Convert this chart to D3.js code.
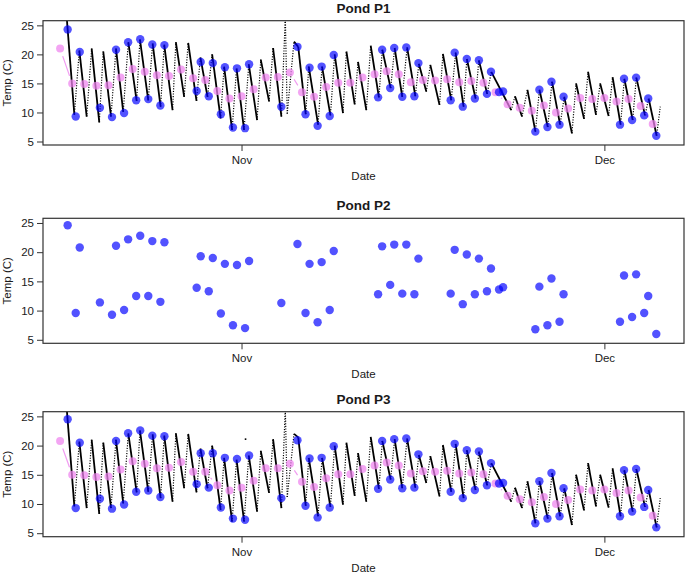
<!DOCTYPE html>
<html><head><meta charset="utf-8">
<script src="https://cdn.jsdelivr.net/npm/d3@7"></script>
<style>
body{margin:0;background:#fff}
svg text{font-family:"Liberation Sans",Arial,Helvetica,sans-serif;fill:#1a1a1a}
</style></head>
<body><svg id="chart" width="685" height="575"></svg>
<script>
// ---------------- DATA ----------------
const YEAR = "2012";
const panelTitles = ["Pond P1", "Pond P2", "Pond P3"];
const xTickDates = ["11-01", "12-01"];
const xTickLabels = ["Nov", "Dec"];
const yTickValues = [5, 10, 15, 20, 25];
const xLabel = "Date";
const yLabel = "Temp (C)";

// continuous logger record, P1 (daily turning points)
const loggerTimesP1 = ["10-17 13:12","10-18 04:19","10-18 14:10","10-19 04:48","10-19 14:38","10-20 05:46","10-20 13:41","10-21 05:02","10-21 14:53","10-22 05:17","10-22 15:22","10-23 07:55","10-23 14:24","10-24 06:58","10-24 15:36","10-25 07:26","10-25 14:38","10-26 07:12","10-26 13:41","10-27 06:14","10-27 14:10","10-28 06:43","10-28 14:24","10-29 04:34","10-29 13:41","10-30 06:29","10-30 13:26","10-31 05:17","10-31 14:10","11-01 05:02","11-01 14:24","11-02 06:58","11-02 14:10","11-03 06:43","11-03 14:38","11-04 07:12","11-04 14:53","11-04 18:43","11-05 08:10","11-05 16:34","11-06 07:26","11-06 13:26","11-07 07:55","11-07 15:50","11-08 08:24","11-08 16:48","11-09 09:22","11-09 16:05","11-10 08:38","11-10 15:07","11-11 07:41","11-11 16:19","11-12 08:38","11-12 15:22","11-13 07:55","11-13 15:50","11-14 06:58","11-14 16:34","11-15 08:53","11-15 15:50","11-16 06:43","11-16 14:38","11-17 08:53","11-17 15:36","11-18 08:10","11-18 16:48","11-19 08:38","11-19 15:07","11-20 08:24","11-20 14:53","11-21 07:26","11-21 15:36","11-23 07:12","11-23 14:38","11-24 04:34","11-24 15:22","11-25 07:12","11-25 15:07","11-26 07:41","11-26 16:05","11-27 08:10","11-27 16:19","11-28 07:41","11-28 15:50","11-29 07:41","11-29 15:36","11-30 07:26","11-30 15:36","12-01 08:24","12-01 16:19","12-02 08:10","12-02 15:36","12-03 08:10","12-03 15:22","12-04 08:38","12-04 15:50","12-05 07:41","12-05 14:53"];
const loggerTempP1 = [26.3,9.6,20.7,9.3,21.0,8.3,20.5,9.3,21.0,10.1,22.1,12.0,22.6,12.1,21.9,11.0,21.7,10.4,22.1,12.7,22.0,12.0,19.5,12.7,20.0,9.0,17.9,7.0,17.6,7.0,18.3,8.7,19.1,11.9,21.1,9.3,26.5,9.8,22.2,21.3,9.7,17.9,7.9,17.9,9.5,20.0,9.9,20.5,11.4,18.7,10.4,21.5,12.6,20.8,14.2,21.1,12.7,21.2,12.8,18.4,13.6,18.2,11.3,20.1,12.1,20.3,11.0,19.2,12.4,19.0,13.2,17.0,10.4,12.8,9.3,13.9,6.7,13.9,7.5,15.3,7.9,12.7,6.4,15.0,8.9,17.0,9.6,15.0,9.4,16.1,7.9,15.8,8.7,16.0,9.5,12.4,6.0,11.0];

// continuous logger record, P3
const loggerTimesP3 = loggerTimesP1.slice();
const loggerTempP3 = [26.3,9.6,20.7,9.3,21.0,8.3,20.5,9.3,21.0,10.1,22.1,12.0,22.6,12.1,21.9,11.0,21.7,10.4,22.1,12.7,22.0,12.0,19.5,12.7,20.0,9.0,17.9,7.0,17.6,7.0,18.3,8.7,19.1,11.9,21.1,9.3,26.5,11.2,22.0,21.4,9.7,17.9,7.9,17.9,9.5,20.0,9.9,20.5,11.4,18.7,10.4,21.5,12.6,20.8,14.2,21.1,12.7,21.2,12.8,18.4,13.6,18.2,11.3,20.1,12.1,20.3,11.0,19.2,12.4,19.0,13.2,17.0,10.4,12.8,9.3,13.9,6.7,13.9,7.5,15.3,7.9,12.7,6.4,15.0,8.9,17.0,9.6,15.0,9.4,16.1,7.9,15.8,8.7,16.0,9.5,12.4,6.0,11.0];
// isolated logger readings, P3
const strayTimesP3 = ["11-01 08:00"];
const strayTempP3 = [21.1];

// spot measurements (morning / afternoon)
const spotTimes = ["10-17 15:00","10-18 07:00","10-18 15:00","10-20 07:00","10-21 07:00","10-21 15:00","10-22 07:00","10-22 15:00","10-23 07:00","10-23 15:00","10-24 07:00","10-24 15:00","10-25 07:00","10-25 15:00","10-28 07:00","10-28 15:00","10-29 07:00","10-29 15:00","10-30 07:00","10-30 15:00","10-31 07:00","10-31 15:00","11-01 07:00","11-01 15:00","11-04 07:00","11-05 15:00","11-06 07:00","11-06 15:00","11-07 07:00","11-07 15:00","11-08 07:00","11-08 15:00","11-12 07:00","11-12 15:00","11-13 07:00","11-13 15:00","11-14 07:00","11-14 15:00","11-15 07:00","11-15 15:00","11-18 07:00","11-18 15:00","11-19 07:00","11-19 15:00","11-20 07:00","11-20 15:00","11-21 07:00","11-21 15:00","11-22 07:00","11-22 15:00","11-25 07:00","11-25 15:00","11-26 07:00","11-26 15:00","11-27 07:00","11-27 15:00","12-02 07:00","12-02 15:00","12-03 07:00","12-03 15:00","12-04 07:00","12-04 15:00","12-05 07:00"];
const spotP1 = [24.3,9.3,20.4,10.8,9.2,20.8,9.9,22.1,12.1,22.6,12.3,21.7,11.2,21.6,13.7,18.7,12.8,18.5,9.7,17.8,7.4,17.6,7.3,18.3,11.0,21.3,9.7,17.7,7.7,17.9,9.4,19.9,12.6,20.8,14.2,21.1,12.7,21.2,12.8,18.5,12.1,20.3,11.0,19.2,12.4,19.0,13.2,17.0,13.5,13.6,6.7,13.9,7.5,15.3,7.9,12.7,7.9,15.8,8.7,16.0,9.5,12.4,6.0];
const spotP2 = [24.6,9.6,20.8,11.4,9.3,21.1,10.1,22.2,12.5,22.8,12.5,21.9,11.5,21.7,13.9,19.3,13.3,19.0,9.5,18.0,7.5,17.8,7.0,18.5,11.3,21.4,9.6,18.0,8.0,18.3,10.1,20.2,12.8,21.0,14.4,21.3,12.9,21.3,12.8,18.9,12.9,20.4,11.1,19.6,12.8,18.9,13.3,17.2,13.6,14.0,6.8,14.1,7.5,15.5,8.1,12.8,8.1,16.0,8.9,16.2,9.6,12.5,6.0];
const spotP3 = [24.5,9.3,20.5,10.9,9.2,20.8,9.9,22.1,12.1,22.6,12.3,21.7,11.2,21.6,13.4,18.7,12.8,18.7,9.4,17.9,7.5,17.7,7.3,18.3,11.0,20.9,9.7,17.8,7.7,17.9,9.4,19.9,12.6,20.8,14.2,21.1,12.7,21.2,12.8,18.5,12.1,20.3,11.0,19.2,12.4,19.0,13.2,17.0,13.5,13.6,6.7,13.9,7.5,15.3,7.9,12.7,7.9,15.8,8.7,16.0,9.5,12.4,6.0];

// daily means
const meanDays = ["10-17","10-18","10-19","10-20","10-21","10-22","10-23","10-24","10-25","10-26","10-27","10-28","10-29","10-30","10-31","11-01","11-02","11-03","11-04","11-05","11-06","11-07","11-08","11-09","11-10","11-11","11-12","11-13","11-14","11-15","11-16","11-17","11-18","11-19","11-20","11-21","11-22","11-23","11-24","11-25","11-26","11-27","11-28","11-29","11-30","12-01","12-02","12-03","12-04","12-05"];
const meanP1 = [21.0,15.0,14.9,14.6,14.7,16.0,17.5,17.0,16.4,16.3,17.4,15.9,15.6,13.7,12.4,12.8,14.0,16.0,16.1,16.9,13.5,12.7,14.4,15.1,15.1,16.0,16.6,17.1,16.6,15.2,15.6,15.5,15.7,15.2,15.4,15.1,13.5,11.4,10.8,10.3,11.2,10.0,10.7,12.5,12.3,12.5,11.9,12.3,11.1,8.0];
const meanP3 = [20.8,15.0,14.9,14.6,14.7,15.9,17.3,16.9,16.1,16.2,17.2,15.5,15.5,13.2,12.3,12.8,14.0,16.1,16.1,16.9,13.8,12.9,14.4,15.1,15.1,16.0,16.6,17.1,16.6,15.2,15.6,15.5,15.7,15.2,15.4,15.1,13.5,11.4,10.8,10.3,11.2,10.0,10.7,12.5,12.3,12.5,11.9,12.3,11.1,8.0];

// ---------------- HELPERS ----------------
const parseT = d3.utcParse("%Y-%m-%d %H:%M");
const T = s => parseT(`${YEAR}-${s.length === 5 ? s + " 00:00" : s}`);
const zip = (ts, vs) => ts.map((s, i) => ({t: T(s), v: vs[i]}));

const svg = d3.select("#chart");
const plotLeft = 43, plotRight = 684;
const yDomain = [4.4, 25.8];

const p1Logger = zip(loggerTimesP1, loggerTempP1);
const ext = d3.extent(p1Logger, d => d.t);
const pad = (ext[1] - ext[0]) * 0.04;
const x = d3.scaleUtc().domain([new Date(+ext[0] - pad), new Date(+ext[1] + pad)]).range([plotLeft, plotRight]);

const panels = [
  {title: panelTitles[0], top: 20.7, bottom: 145,
   logger: p1Logger, stray: null, spot: zip(spotTimes, spotP1), mean: zip(meanDays, meanP1)},
  {title: panelTitles[1], top: 218.3, bottom: 343.3,
   logger: null, stray: null, spot: zip(spotTimes, spotP2), mean: null},
  {title: panelTitles[2], top: 411.7, bottom: 536.7,
   logger: zip(loggerTimesP3, loggerTempP3), stray: zip(strayTimesP3, strayTempP3),
   spot: zip(spotTimes, spotP3), mean: zip(meanDays, meanP3)}
];

panels.forEach((P, pi) => {
  const y = d3.scaleLinear().domain(yDomain).range([P.bottom, P.top]);
  const g = svg.append("g");
  const cid = "clip" + pi;
  svg.append("clipPath").attr("id", cid).append("rect")
    .attr("x", plotLeft).attr("y", P.top).attr("width", plotRight - plotLeft).attr("height", P.bottom - P.top);
  const pg = g.append("g").attr("clip-path", `url(#${cid})`);

  const line = d3.line().x(d => x(d.t)).y(d => y(d.v));

  if (P.logger) {
    const segs = d3.pairs(P.logger);
    pg.selectAll("path.seg").data(segs).join("path")
      .attr("d", d => line(d))
      .attr("fill", "none")
      .attr("stroke", "#000")
      .each(function(d) {
        const days = (d[1].t - d[0].t) / 864e5;
        const rate = Math.abs(d[1].v - d[0].v) / days;
        const dotted = d[1].v > d[0].v || rate > 35;
        d3.select(this)
          .attr("stroke-width", dotted ? 1.2 : 1.8)
          .attr("stroke-dasharray", dotted ? "1.1,1.5" : null);
      });
  }
  if (P.stray) {
    pg.selectAll("rect.stray").data(P.stray).join("rect")
      .attr("x", d => x(d.t) - 0.8).attr("y", d => y(d.v) - 0.8)
      .attr("width", 1.6).attr("height", 1.6).attr("fill", "#000");
  }

  if (P.mean) {
    const gap = 8;
    d3.pairs(P.mean).forEach(([a, b]) => {
      const x1 = x(a.t), y1 = y(a.v), x2 = x(b.t), y2 = y(b.v);
      const L = Math.hypot(x2 - x1, y2 - y1);
      if (L <= 2 * gap) return;
      const ux = (x2 - x1) / L, uy = (y2 - y1) / L;
      pg.append("line")
        .attr("x1", x1 + ux * gap).attr("y1", y1 + uy * gap)
        .attr("x2", x2 - ux * gap).attr("y2", y2 - uy * gap)
        .attr("stroke", "violet").attr("stroke-opacity", 0.8).attr("stroke-width", 1.2);
    });
    pg.selectAll("circle.mean").data(P.mean).join("circle")
      .attr("cx", d => x(d.t)).attr("cy", d => y(d.v)).attr("r", 4)
      .attr("fill", "violet").attr("fill-opacity", 0.72);
  }

  pg.selectAll("circle.spot").data(P.spot).join("circle")
    .attr("cx", d => x(d.t)).attr("cy", d => y(d.v)).attr("r", 4.2)
    .attr("fill", "#0000ff").attr("fill-opacity", 0.68);

  // frame
  g.append("rect").attr("x", plotLeft).attr("y", P.top)
    .attr("width", plotRight - plotLeft).attr("height", P.bottom - P.top)
    .attr("fill", "none").attr("stroke", "#333").attr("stroke-width", 1.2);

  // axes
  const ya = g.append("g").attr("transform", `translate(${plotLeft},0)`)
    .call(d3.axisLeft(y).tickValues(yTickValues).tickSize(6).tickPadding(3));
  const xa = g.append("g").attr("transform", `translate(0,${P.bottom})`)
    .call(d3.axisBottom(x).tickValues(xTickDates.map(T)).tickSize(6).tickPadding(5)
      .tickFormat((d, i) => xTickLabels[i]));
  [ya, xa].forEach(a => {
    a.attr("font-family", null).attr("font-size", null);
    a.select(".domain").remove();
    a.selectAll(".tick line").attr("stroke", "#333");
    a.selectAll("text").attr("font-size", 11.5).attr("fill", "#1a1a1a");
  });

  // titles
  g.append("text").attr("x", (plotLeft + plotRight) / 2).attr("y", P.top - 8)
    .attr("text-anchor", "middle").attr("font-weight", "bold").attr("font-size", 13.5)
    .text(P.title);
  g.append("text").attr("x", (plotLeft + plotRight) / 2).attr("y", P.bottom + 35)
    .attr("text-anchor", "middle").attr("font-size", 11.5).text(xLabel);
  g.append("text")
    .attr("transform", `translate(10.5,${(P.top + P.bottom) / 2}) rotate(-90)`)
    .attr("text-anchor", "middle").attr("font-size", 11.5).text(yLabel);
});
</script>
</body></html>
